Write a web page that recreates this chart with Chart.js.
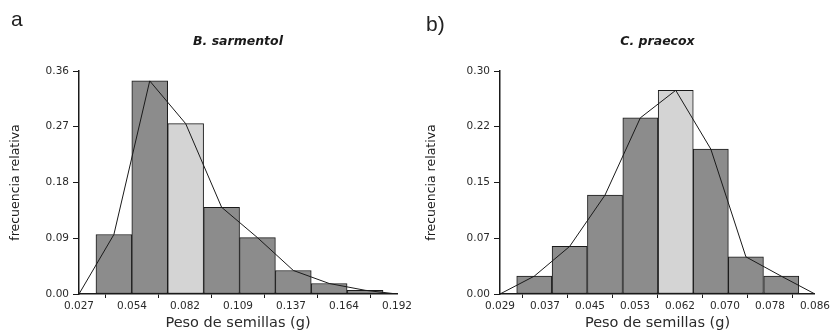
<!DOCTYPE html>
<html>
<head>
<meta charset="utf-8">
<script src="https://cdn.jsdelivr.net/npm/chart.js@4/dist/chart.umd.min.js"></script>
<style>
  html, body { margin: 0; padding: 0; background: #fff; }
  #wrap { position: relative; width: 832px; height: 336px; overflow: hidden; }
  .panel { position: absolute; top: 0; width: 416px; height: 336px; }
  .tag { position: absolute; font-family: "Liberation Sans", Arial, sans-serif; font-size: 21px; line-height: 21px; color: #222; }
</style>
</head>
<body>
<div id="wrap">
  <div class="panel" style="left:0"><canvas id="chartA" width="416" height="336"></canvas></div>
  <div class="panel" style="left:416px"><canvas id="chartB" width="416" height="336"></canvas></div>
  <div class="tag" style="left:11px; top:8px">a</div>
  <div class="tag" style="left:426px; top:13px">b)</div>
</div>
<script>
// --- datos ---
var binEdgesA = [0.0358, 0.0544, 0.0730, 0.0917, 0.1103, 0.1289, 0.1475, 0.1661, 0.1848];
var freqA = [0.096, 0.344, 0.275, 0.140, 0.091, 0.038, 0.017, 0.006];
var xTicksA = [0.027, 0.0545, 0.082, 0.1095, 0.137, 0.1645, 0.192];
var xLabelsA = ['0.027', '0.054', '0.082', '0.109', '0.137', '0.164', '0.192'];
var yTicksA = [0, 0.09, 0.18, 0.27, 0.36];
var yLabelsA = ['0.00', '0.09', '0.18', '0.27', '0.36'];

var binEdgesB = [0.0320, 0.0384, 0.0448, 0.0512, 0.0576, 0.0640, 0.0703, 0.0767, 0.0831];
var freqB = [0.024, 0.064, 0.133, 0.237, 0.274, 0.195, 0.050, 0.024];
var xTicksB = [0.029, 0.03714, 0.04529, 0.05343, 0.06157, 0.06971, 0.07786, 0.086];
var xLabelsB = ['0.029', '0.037', '0.045', '0.053', '0.062', '0.070', '0.078', '0.086'];
var yTicksB = [0, 0.075, 0.15, 0.225, 0.30];
var yLabelsB = ['0.00', '0.07', '0.15', '0.22', '0.30'];

var DARK = '#8c8c8c', LIGHT = '#d4d4d4', INK = '#1a1a1a';
var FONT = '"DejaVu Sans", Verdana, sans-serif';

function histChart(id, cfg) {
    var mids = [];
    for (var i = 0; i < cfg.freq.length; i++) {
        mids.push((cfg.edges[i] + cfg.edges[i + 1]) / 2);
    }
    var bars = cfg.freq.map(function(f, i) { return { x: mids[i], y: f }; });
    // poligono de frecuencias, cerrado en los extremos del eje
    var poly = [{ x: cfg.xTicks[0], y: 0 }].concat(bars, [{ x: cfg.xTicks[cfg.xTicks.length - 1], y: 0 }]);

    var ctx = document.getElementById(id).getContext('2d');
    return new Chart(ctx, {
        type: 'line',
        data: {
            datasets: [{
                type: 'line',
                data: poly,
                borderColor: INK,
                borderWidth: 1,
                pointRadius: 0,
                tension: 0,
                order: 0
            }, {
                type: 'bar',
                data: bars,
                backgroundColor: cfg.freq.map(function(f, i) { return i === cfg.light ? LIGHT : DARK; }),
                borderColor: INK,
                borderWidth: 1,
                borderSkipped: false,
                barPercentage: 1,
                categoryPercentage: 1,
                order: 1
            }]
        },
        options: {
            responsive: false,
            animation: false,
            layout: { padding: { left: 0, right: cfg.padRight, top: 0, bottom: 0 } },
            plugins: {
                legend: { display: false },
                tooltip: { enabled: false },
                title: {
                    display: true,
                    text: cfg.title,
                    fullSize: false,
                    color: INK,
                    font: { family: FONT, size: 12.5, style: 'italic', weight: 'bold' },
                    padding: { top: 34, bottom: 22 }
                }
            },
            scales: {
                x: {
                    type: 'linear',
                    offset: false,
                    min: cfg.xTicks[0],
                    max: cfg.xTicks[cfg.xTicks.length - 1],
                    afterBuildTicks: function(s) { s.ticks = cfg.xTicks.map(function(v) { return { value: v }; }); },
                    afterFit: function(s) { s.height = 42; },
                    grid: { drawOnChartArea: false, tickLength: 4, color: INK },
                    border: { color: INK, width: 1.5 },
                    ticks: {
                        autoSkip: false, maxRotation: 0, padding: 2, color: '#2a2a2a',
                        font: { family: FONT, size: 10.5 },
                        callback: function(v, i) { return cfg.xLabels[i]; }
                    },
                    title: {
                        display: true, text: 'Peso de semillas (g)', color: '#2a2a2a',
                        font: { family: FONT, size: 14.5 },
                        padding: { top: 0, bottom: 4 }
                    }
                },
                y: {
                    min: 0,
                    max: cfg.yTicks[cfg.yTicks.length - 1],
                    afterBuildTicks: function(s) { s.ticks = cfg.yTicks.map(function(v) { return { value: v }; }); },
                    afterFit: function(s) { s.width = cfg.yWidth; },
                    grid: { drawOnChartArea: false, tickLength: 6, color: INK },
                    border: { color: INK, width: 1.5 },
                    ticks: {
                        padding: 4, color: '#2a2a2a',
                        font: { family: FONT, size: 10.5 },
                        callback: function(v, i) { return cfg.yLabels[i]; }
                    },
                    title: {
                        display: true, text: 'frecuencia relativa', color: INK,
                        font: { family: FONT, size: 12.5 },
                        padding: { top: 8, bottom: 0 }
                    }
                }
            }
        }
    });
}

histChart('chartA', {
    title: 'B. sarmentol', edges: binEdgesA, freq: freqA, light: 2,
    xTicks: xTicksA, xLabels: xLabelsA, yTicks: yTicksA, yLabels: yLabelsA,
    yWidth: 79, padRight: 19
});
histChart('chartB', {
    title: 'C. praecox', edges: binEdgesB, freq: freqB, light: 4,
    xTicks: xTicksB, xLabels: xLabelsB, yTicks: yTicksB, yLabels: yLabelsB,
    yWidth: 84, padRight: 14
});
</script>
</body>
</html>
